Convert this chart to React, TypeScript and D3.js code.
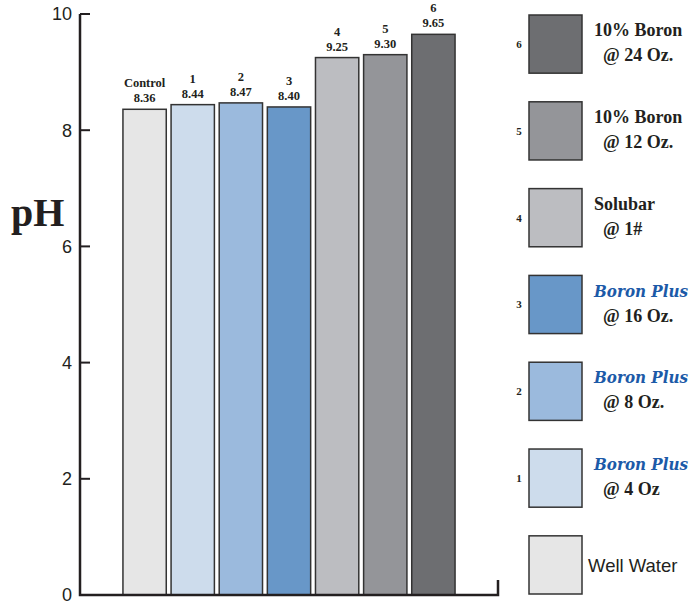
import React from "react";
import * as d3 from "d3";

const categories = ["Control", "1", "2", "3", "4", "5", "6"];
const values = [8.36, 8.44, 8.47, 8.4, 9.25, 9.3, 9.65];
const colors = ["#e6e6e6", "#cddcec", "#9bbadd", "#6897c8", "#bcbdc1", "#949599", "#6d6e71"];
const yTicks = [0, 2, 4, 6, 8, 10];
const legendKeys = ["6", "5", "4", "3", "2", "1", "Control"];
const legendLine1 = ["10% Boron", "10% Boron", "Solubar", "Boron Plus", "Boron Plus", "Boron Plus", "Well Water"];
const legendLine2 = ["@ 24 Oz.", "@ 12 Oz.", "@ 1#", "@ 16 Oz.", "@ 8 Oz.", "@ 4 Oz", ""];
const legendBlue = [false, false, false, true, true, true, false];

export default function App() {
  const W = 689, H = 605;
  const y = d3.scaleLinear().domain([0, 10]).range([595, 14]);
  const x = d3.scaleBand().domain(categories).range([121.5, 456.5]).paddingInner(0.1).paddingOuter(0.03);
  const serif = "'Liberation Serif', 'Times New Roman', serif";
  const italicSerif = "'DejaVu Serif Condensed', 'DejaVu Serif', serif";
  const sans = "'Liberation Sans', Arial, sans-serif";
  const axisColor = "#231f20";
  const legendY = d3.scaleBand().domain(legendKeys).range([15, 594]).paddingInner(0.33).paddingOuter(0);
  return (
    <svg width={W} height={H} style={{ position: "absolute", left: 0, top: 0, background: "#fff" }}>
      {/* bars */}
      {categories.map((c, i) => (
        <g key={c}>
          <rect x={x(c)} y={y(values[i])} width={x.bandwidth()} height={y(0) - y(values[i])}
            fill={colors[i]} stroke="#333" strokeWidth={1.5} />
          <text x={x(c)! + x.bandwidth() / 2} y={y(values[i]) - 22} textAnchor="middle"
            fontFamily={serif} fontWeight="bold" fontSize={12.5} fill="#231f20">{c}</text>
          <text x={x(c)! + x.bandwidth() / 2} y={y(values[i]) - 7} textAnchor="middle"
            fontFamily={serif} fontWeight="bold" fontSize={12.5} fill="#231f20">{values[i].toFixed(2)}</text>
        </g>
      ))}
      {/* axes */}
      <path d={`M80,${y(10)} V${y(0)} H498 V580`} fill="none" stroke={axisColor} strokeWidth={2.5} />
      {yTicks.map((t) => (
        <g key={t}>
          <line x1={80} x2={90} y1={y(t)} y2={y(t)} stroke={axisColor} strokeWidth={2} />
          <text x={72} y={y(t)} dy="0.36em" textAnchor="end" fontFamily={sans} fontSize={18} fill="#231f20">{t}</text>
        </g>
      ))}
      <text x={11} y={226} fontFamily={serif} fontWeight="bold" fontSize={40} fill="#231f20">pH</text>
      {/* legend */}
      {legendKeys.map((k, i) => {
        const top = legendY(k)!;
        const h = legendY.bandwidth();
        const cy = top + h / 2;
        const color = colors[categories.indexOf(k)];
        return (
          <g key={k}>
            <rect x={529} y={top} width={53} height={h} fill={color} stroke="#333" strokeWidth={1.5} />
            {k !== "Control" && (
              <text x={519} y={cy} dy="0.35em" textAnchor="middle" fontFamily={serif} fontWeight="bold" fontSize={11} fill="#231f20">{k}</text>
            )}
            {legendLine2[i] ? (
              <>
                {legendBlue[i] ? (
                  <text x={594} y={cy - 8} fontFamily={italicSerif} fontWeight="bold" fontStyle="italic"
                    fontSize={16} textLength={94} lengthAdjust="spacingAndGlyphs" fill="#1c5aa8">{legendLine1[i]}</text>
                ) : (
                  <text x={594} y={cy - 8} fontFamily={serif} fontWeight="bold"
                    fontSize={18} fill="#231f20">{legendLine1[i]}</text>
                )}
                <text x={603} y={cy + 17} fontFamily={serif} fontWeight="bold" fontSize={18} fill="#231f20">{legendLine2[i]}</text>
              </>
            ) : (
              <text x={588} y={cy} dy="0.36em" fontFamily={sans} fontSize={18.5} fill="#231f20">{legendLine1[i]}</text>
            )}
          </g>
        );
      })}
    </svg>
  );
}
